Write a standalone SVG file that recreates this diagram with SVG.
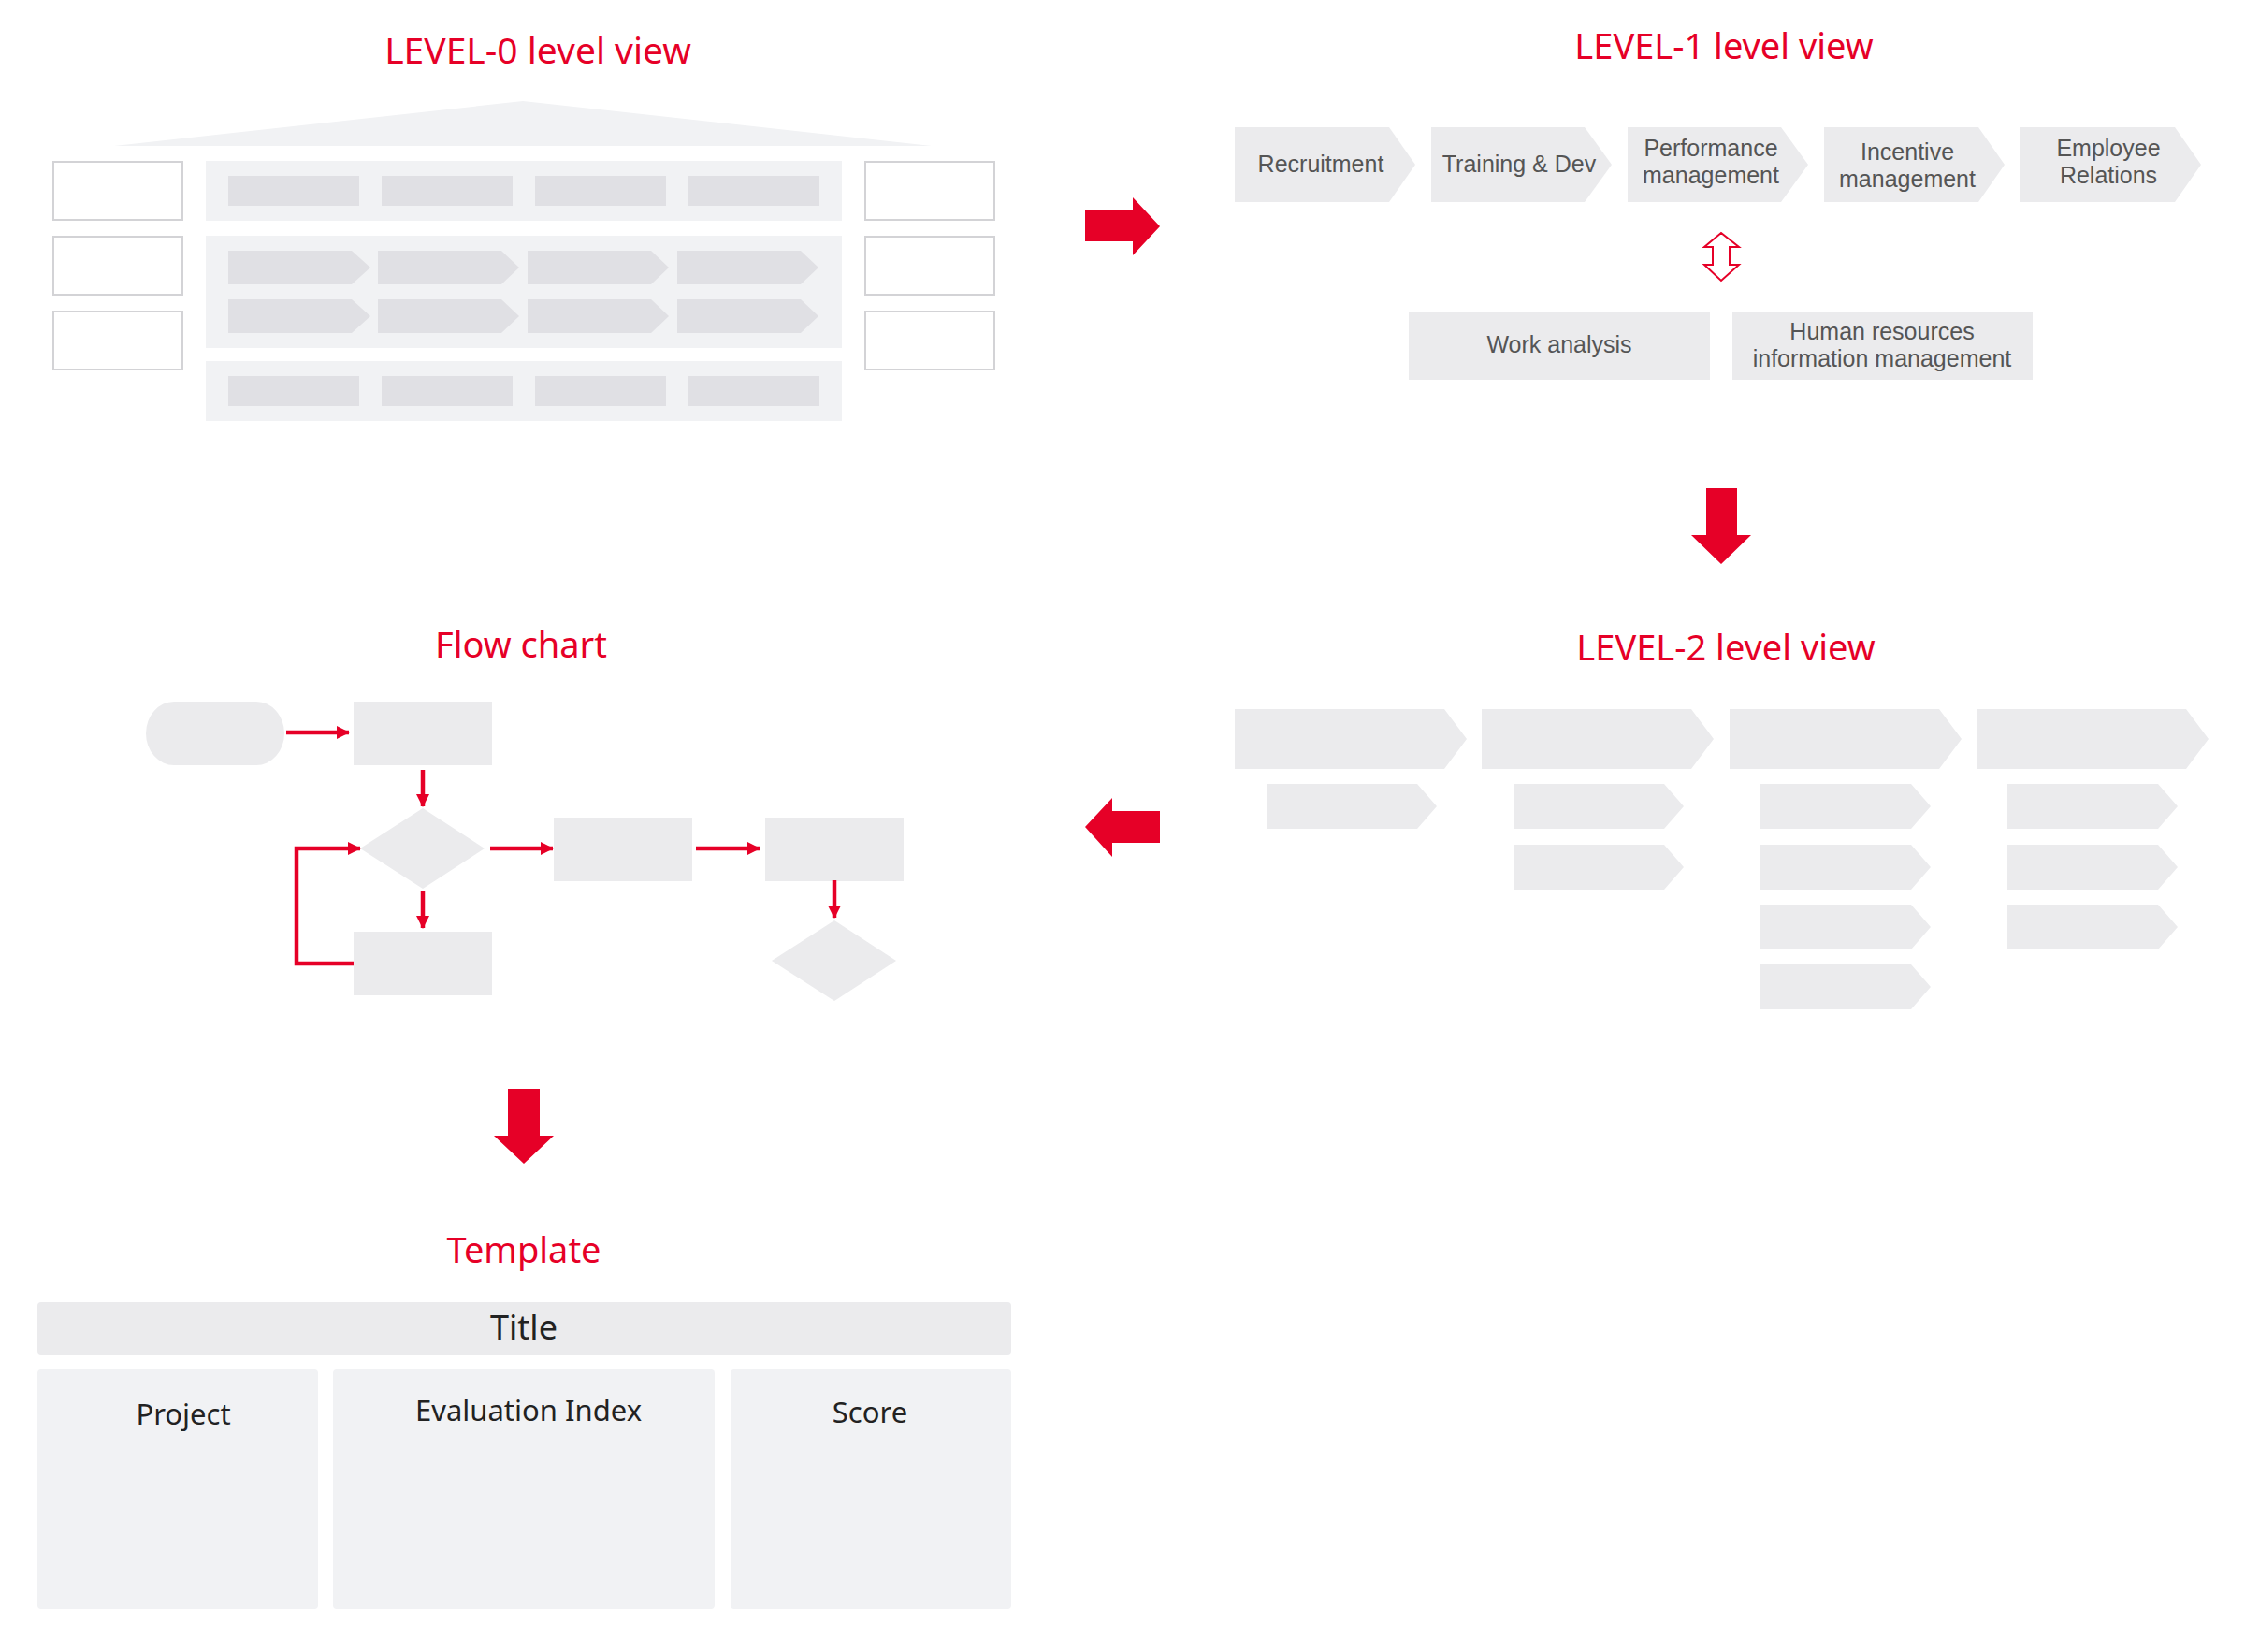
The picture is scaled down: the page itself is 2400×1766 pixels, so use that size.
<svg xmlns="http://www.w3.org/2000/svg" width="2400" height="1766" viewBox="0 0 2400 1766">
<defs>
<style>
.ttl{font-family:"Noto Sans","Open Sans","Liberation Sans",sans-serif;font-size:38px;fill:#e60027;text-anchor:middle}
.lbl{font-family:"Liberation Sans",Arial,sans-serif;font-size:25px;fill:#555555;text-anchor:middle}
.tpl{font-family:"Noto Sans","Open Sans","Liberation Sans",sans-serif;font-size:31px;fill:#222222;text-anchor:middle}
.panel{fill:#f1f2f4}
.inner{fill:#e0e0e4}
.box{fill:#ffffff;stroke:#d3d3d6;stroke-width:2}
.chev{fill:#ebebed}
.fs{fill:#ebebed}
.big{fill:#e60027}
.fl{fill:none;stroke:#e60027;stroke-width:4.5}
</style>
<marker id="ah" markerUnits="userSpaceOnUse" markerWidth="14" markerHeight="14" viewBox="0 0 14 14" refX="13" refY="7" orient="auto">
<path d="M0,0 L14,7 L0,14 Z" fill="#e60027"/>
</marker>
</defs>
<rect width="2400" height="1766" fill="#ffffff"/>

<g id="level0">
<text class="ttl" x="575" y="68" style="font-size:39px">LEVEL-0 level view</text>
<polygon class="panel" points="122,156 559,108 996,156"/>
<rect class="box" x="57" y="173" width="138" height="62"/>
<rect class="box" x="57" y="253" width="138" height="62"/>
<rect class="box" x="57" y="333" width="138" height="62"/>
<rect class="box" x="925" y="173" width="138" height="62"/>
<rect class="box" x="925" y="253" width="138" height="62"/>
<rect class="box" x="925" y="333" width="138" height="62"/>
<rect class="panel" x="220" y="172" width="680" height="64"/>
<rect class="panel" x="220" y="252" width="680" height="120"/>
<rect class="panel" x="220" y="386" width="680" height="64"/>
<rect class="inner" x="244" y="188" width="140" height="32"/>
<rect class="inner" x="408" y="188" width="140" height="32"/>
<rect class="inner" x="572" y="188" width="140" height="32"/>
<rect class="inner" x="736" y="188" width="140" height="32"/>
<rect class="inner" x="244" y="402" width="140" height="32"/>
<rect class="inner" x="408" y="402" width="140" height="32"/>
<rect class="inner" x="572" y="402" width="140" height="32"/>
<rect class="inner" x="736" y="402" width="140" height="32"/>
<polygon class="inner" points="244,268 376,268 396,286 376,304 244,304"/>
<polygon class="inner" points="404,268 536,268 555,286 536,304 404,304"/>
<polygon class="inner" points="564,268 696,268 715,286 696,304 564,304"/>
<polygon class="inner" points="724,268 856,268 875,286 856,304 724,304"/>
<polygon class="inner" points="244,320 376,320 396,338 376,356 244,356"/>
<polygon class="inner" points="404,320 536,320 555,338 536,356 404,356"/>
<polygon class="inner" points="564,320 696,320 715,338 696,356 564,356"/>
<polygon class="inner" points="724,320 856,320 875,338 856,356 724,356"/>
</g>

<g id="level1">
<text class="ttl" x="1843" y="63">LEVEL-1 level view</text>
<g id="l1-recruitment">
<polygon class="chev" points="1320,136 1485,136 1513,176 1485,216 1320,216"/>
<text class="lbl" x="1412" y="184">Recruitment</text>
</g>
<g id="l1-training">
<polygon class="chev" points="1530,136 1694,136 1723,176 1694,216 1530,216"/>
<text class="lbl" x="1624" y="184">Training &amp; Dev</text>
</g>
<g id="l1-performance">
<polygon class="chev" points="1740,136 1904,136 1933,176 1904,216 1740,216"/>
<text class="lbl" x="1829" y="167">Performance</text>
<text class="lbl" x="1829" y="196">management</text>
</g>
<g id="l1-incentive">
<polygon class="chev" points="1950,136 2115,136 2143,176 2115,216 1950,216"/>
<text class="lbl" x="2039" y="171">Incentive</text>
<text class="lbl" x="2039" y="200">management</text>
</g>
<g id="l1-employee">
<polygon class="chev" points="2159,136 2325,136 2353,176 2325,216 2159,216"/>
<text class="lbl" x="2254" y="167">Employee</text>
<text class="lbl" x="2254" y="196">Relations</text>
</g>
<g id="l1-work">
<rect class="chev" x="1506" y="334" width="322" height="72"/>
<text class="lbl" x="1667" y="377">Work analysis</text>
</g>
<g id="l1-hr">
<rect class="chev" x="1852" y="334" width="321" height="72"/>
<text class="lbl" x="2012" y="363">Human resources</text>
<text class="lbl" x="2012" y="392">information management</text>
</g>
</g>

<g id="level2">
<text class="ttl" x="1845" y="706">LEVEL-2 level view</text>
<polygon class="chev" points="1320,758 1544,758 1568,790 1544,822 1320,822"/>
<polygon class="chev" points="1584,758 1808,758 1832,790 1808,822 1584,822"/>
<polygon class="chev" points="1849,758 2073,758 2097,790 2073,822 1849,822"/>
<polygon class="chev" points="2113,758 2337,758 2361,790 2337,822 2113,822"/>
<polygon class="chev" points="1354,838 1515,838 1536,862 1515,886 1354,886"/>
<polygon class="chev" points="1618,838 1779,838 1800,862 1779,886 1618,886"/>
<polygon class="chev" points="1618,903 1779,903 1800,927 1779,951 1618,951"/>
<polygon class="chev" points="1882,838 2043,838 2064,862 2043,886 1882,886"/>
<polygon class="chev" points="1882,903 2043,903 2064,927 2043,951 1882,951"/>
<polygon class="chev" points="1882,967 2043,967 2064,991 2043,1015 1882,1015"/>
<polygon class="chev" points="1882,1031 2043,1031 2064,1055 2043,1079 1882,1079"/>
<polygon class="chev" points="2146,838 2307,838 2328,862 2307,886 2146,886"/>
<polygon class="chev" points="2146,903 2307,903 2328,927 2307,951 2146,951"/>
<polygon class="chev" points="2146,967 2307,967 2328,991 2307,1015 2146,1015"/>
</g>

<g id="flowchart">
<text class="ttl" x="557" y="703">Flow chart</text>
<g id="fc-start"><rect class="fs" x="156" y="750" width="148" height="68" rx="30" ry="34"/></g>
<g id="fc-step1"><rect class="fs" x="378" y="750" width="148" height="68"/></g>
<g id="fc-decision1"><polygon class="fs" points="452,864 518,907 452,950 385,907"/></g>
<g id="fc-step2"><rect class="fs" x="592" y="874" width="148" height="68"/></g>
<g id="fc-step3"><rect class="fs" x="818" y="874" width="148" height="68"/></g>
<g id="fc-decision2"><polygon class="fs" points="892,984 958,1027 892,1070 825,1027"/></g>
<g id="fc-step4"><rect class="fs" x="378" y="996" width="148" height="68"/></g>
</g>

<g id="template">
<text class="ttl" x="560" y="1350">Template</text>
<g id="tpl-title">
<rect x="40" y="1392" width="1041" height="56" rx="4" fill="#ebebed"/>
<text class="tpl" x="560" y="1432" style="font-size:36px">Title</text>
</g>
<g id="tpl-project">
<rect class="panel" x="40" y="1464" width="300" height="256" rx="4"/>
<text class="tpl" x="196" y="1523">Project</text>
</g>
<g id="tpl-index">
<rect class="panel" x="356" y="1464" width="408" height="256" rx="4"/>
<text class="tpl" x="565" y="1519">Evaluation Index</text>
</g>
<g id="tpl-score">
<rect class="panel" x="781" y="1464" width="300" height="256" rx="4"/>
<text class="tpl" x="930" y="1521">Score</text>
</g>
</g>

<g id="connectors">
<path class="big" d="M1160,225 H1211 V211 L1240,242 L1211,273 V258 H1160 Z"/>
<path class="big" d="M1824,522 H1857 V572 H1872 L1840,603 L1808,572 H1824 Z"/>
<path class="big" d="M1240,867 V901 H1189 V916 L1160,884 L1189,853 V867 Z"/>
<path class="big" d="M543,1164 H577 V1214 H592 L560,1244 L528,1214 H543 Z"/>
<path d="M1831,264 H1822 L1840,249 L1859,264 H1849 V283 H1859 L1840,300 L1822,283 H1831 Z" fill="#ffffff" stroke="#e60027" stroke-width="2"/>
<line class="fl" x1="306" y1="783" x2="373" y2="783" marker-end="url(#ah)"/>
<line class="fl" x1="452" y1="823" x2="452" y2="862" marker-end="url(#ah)"/>
<line class="fl" x1="524" y1="907" x2="591" y2="907" marker-end="url(#ah)"/>
<line class="fl" x1="744" y1="907" x2="812" y2="907" marker-end="url(#ah)"/>
<line class="fl" x1="892" y1="941" x2="892" y2="981" marker-end="url(#ah)"/>
<line class="fl" x1="452" y1="953" x2="452" y2="992" marker-end="url(#ah)"/>
<polyline class="fl" points="378,1030 317,1030 317,907 385,907" marker-end="url(#ah)"/>
</g>
</svg>
